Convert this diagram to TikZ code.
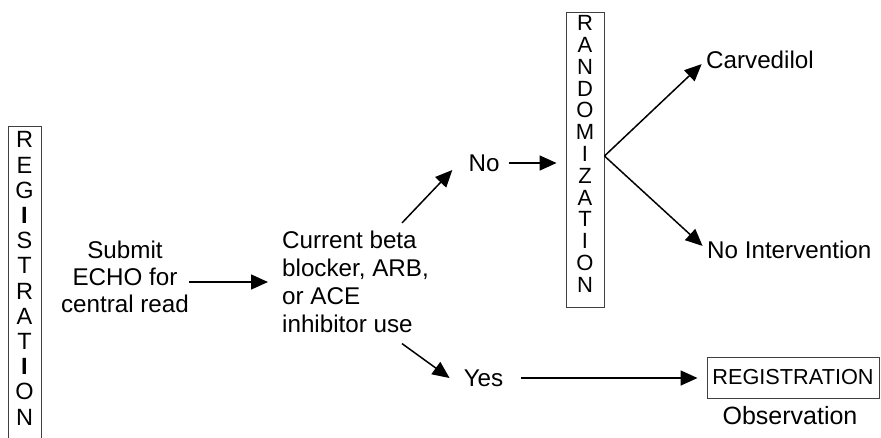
\documentclass[tikz,border=0pt]{standalone}
\usepackage{fontspec}
\setmainfont{Liberation Sans}
\usetikzlibrary{arrows.meta,calc}
\begin{document}
\begin{tikzpicture}[x=1pt,y=-1pt,
  txt/.style={inner sep=0pt, font=\fontsize{24.2}{27}\selectfont},
  arr/.style={line width=1.5pt, -{Triangle[length=17pt,width=15pt]}},
  vbox/.style={draw=black!75, line width=0.9pt, inner sep=0pt},
  vlet/.style={inner sep=0pt, align=center}]
\useasboundingbox (0,0) rectangle (881,437);
% left registration column
\node[vbox, minimum width=33pt, minimum height=340pt] (regbox) at (24.5,296) {};
\node[vlet, font=\fontsize{23.5}{25.2}\selectfont] (reglet) at (24.5,278.5)
  {R\\E\\G\\\textbf{I}\\S\\T\\R\\A\\T\\\textbf{I}\\O\\N};
% text nodes
\node[txt, align=center] (sub) at (125,277) {Submit\\ECHO for\\central read};
\node[txt, align=left, anchor=west, font=\fontsize{24.2}{28}\selectfont] (cur) at (282,282)
  {Current beta\\blocker, ARB,\\or ACE\\inhibitor use};
\node[txt] (no) at (484,163) {No};
% randomization column
\node[vbox, minimum width=38pt, minimum height=295pt] (rand) at (585,159.5) {};
\node[vlet, font=\fontsize{22}{21.8}\selectfont] (randlet) at (585,154)
  {R\\A\\N\\D\\O\\M\\I\\Z\\A\\T\\I\\O\\N};
\coordinate (apex) at ([yshift=3.5pt]rand.east);
\node[txt, anchor=west] (carv) at (706,60) {Carvedilol};
\node[txt, anchor=west] (noint) at (707,250) {No Intervention};
\node[txt] (yes) at (483.5,378) {Yes};
\node[vbox, minimum width=172pt, minimum height=41pt, font=\fontsize{21.7}{25}\selectfont] (reg) at (793,377.5) {REGISTRATION};
\node[txt, font=\fontsize{25}{27}\selectfont] (obs) at (790,416) {Observation};
% connectors
\draw[arr, shorten >=14pt] (sub.east |- cur.west) -- (cur.west);
\draw[arr] ([shift={(120,-8)}]cur.north west) -- ([shift={(-16,7)}]no.west);
\draw[arr, shorten <=9pt, shorten >=9pt] (no.east) -- (no.east -| rand.west);
\draw[arr, shorten >=6pt] (apex) -- (carv.west);
\draw[arr, shorten >=6pt] (apex) -- (noint.west);
\draw[arr] ([shift={(120,10.5)}]cur.south west) -- ([xshift=-14pt]yes.west);
\draw[arr, shorten <=18pt, shorten >=9pt] (yes.east) -- (yes.east -| reg.west);
\end{tikzpicture}
\end{document}
